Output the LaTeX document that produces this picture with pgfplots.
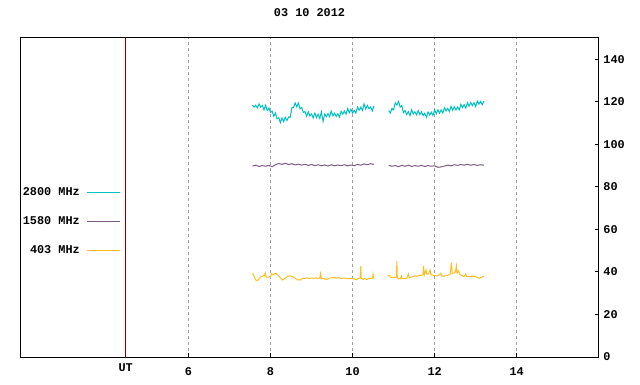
\documentclass[border=0pt]{standalone}
\usepackage{fontspec}
\setmainfont{Liberation Mono}
\usepackage{pgfplots}
\pgfplotsset{compat=1.18}
\definecolor{cteal}{RGB}{0,192,192}
\definecolor{cpurp}{RGB}{125,92,130}
\definecolor{corange}{RGB}{255,190,30}
\definecolor{cut}{RGB}{128,0,0}
\definecolor{cgrid}{RGB}{160,160,160}
\newcommand{\lfont}{\fontsize{11.9}{13}\selectfont\bfseries}
\begin{document}
\begin{tikzpicture}[x=1bp,y=1bp]
\useasboundingbox (0,0) rectangle (640,384);
\begin{axis}[
  at={(20.3bp,27bp)}, anchor=south west,
  scale only axis, width=578.4bp, height=319bp,
  xmin=1.9, xmax=16.0, ymin=0, ymax=150,
  axis line style={line width=1bp},
  xtick={6,8,10,12,14}, ytick={0,20,...,140},
  xtick pos=bottom, ytick pos=right, yticklabel pos=right,
  tick align=inside, major tick length=4bp,
  every tick/.style={black, line width=1bp},
  xmajorgrids,
  major x grid style={cgrid, line width=1bp, dash pattern=on 3bp off 3bp},
  extra x ticks={4.47}, extra x tick labels={UT},
  extra x tick style={
    major x grid style={cut, solid, line width=1bp},
    every tick/.style={cut, line width=1bp},
    xticklabel style={yshift=4bp}},
  tick label style={font=\lfont},
  xticklabel style={anchor=base, yshift=-18bp},
  yticklabel style={anchor=west, inner sep=0pt, xshift=4.5bp},
  /pgf/number format/assume math mode=true,
  title={03 10 2012},
  title style={font=\lfont, at={(0.5,1)}, anchor=center, yshift=19bp},
  unbounded coords=jump,
  legend cell align=right,
  legend plot pos=right,
  legend style={at={(rel axis cs:0.1741,0.5204)}, anchor=north east, yshift=3.5bp,
    draw=none, fill=none, inner sep=0pt, font=\lfont,
    nodes={inner sep=0pt}, column sep=7bp, row sep=19.7bp},
  legend image code/.code={\draw[#1] (0bp,0bp) -- (33bp,0bp);},
]
\addplot[cteal, line width=1bp] coordinates {
(7.56,118.4)(7.60,117.5)(7.64,118.4)(7.68,117.1)(7.72,119.0)(7.76,117.5)(7.80,118.3)(7.84,116.2)(7.88,118.4)(7.92,115.9)
(7.96,117.1)(8.00,115.0)(8.04,115.6)(8.08,113.2)(8.12,114.7)(8.16,112.0)(8.20,112.5)(8.24,110.2)(8.28,112.4)(8.32,110.7)
(8.36,112.7)(8.40,111.2)(8.44,112.9)(8.48,112.7)(8.52,117.2)(8.56,117.3)(8.60,119.5)(8.64,117.6)(8.68,119.4)(8.72,116.7)
(8.76,117.4)(8.80,115.0)(8.84,115.4)(8.88,113.2)(8.92,115.2)(8.96,113.3)(9.00,114.3)(9.04,112.4)(9.08,114.7)(9.12,112.6)
(9.16,114.1)(9.20,112.2)(9.24,115.3)(9.28,110.8)(9.32,114.2)(9.36,113.0)(9.40,114.5)(9.44,113.0)(9.48,115.6)(9.52,113.4)
(9.56,114.7)(9.60,113.1)(9.64,114.4)(9.68,112.8)(9.72,115.5)(9.76,114.1)(9.80,115.7)(9.84,114.2)(9.88,116.8)(9.92,114.9)
(9.96,116.5)(10.00,114.7)(10.04,116.0)(10.08,114.7)(10.12,117.5)(10.16,116.0)(10.20,117.5)(10.24,116.0)(10.28,119.0)(10.32,116.6)
(10.36,118.3)(10.40,116.7)(10.44,117.6)(10.48,115.7)(10.52,118.0)
(10.70,nan)
(10.88,115.9)(10.92,114.7)(10.96,116.9)(11.00,116.2)(11.04,119.5)(11.08,118.5)(11.12,120.2)(11.16,117.5)(11.20,118.2)(11.24,114.9)
(11.28,115.9)(11.32,114.0)(11.36,115.4)(11.40,113.5)(11.44,116.2)(11.48,114.3)(11.52,115.3)(11.56,113.8)(11.60,115.9)(11.64,114.0)
(11.68,115.3)(11.72,113.5)(11.76,114.6)(11.80,112.7)(11.84,115.2)(11.88,113.7)(11.92,115.1)(11.96,113.6)(12.00,116.2)(12.04,114.4)
(12.08,116.2)(12.12,114.7)(12.16,116.2)(12.20,114.7)(12.24,117.2)(12.28,115.7)(12.32,116.9)(12.36,115.4)(12.40,117.9)(12.44,116.0)
(12.48,117.7)(12.52,116.2)(12.56,117.6)(12.60,116.2)(12.64,118.8)(12.68,117.3)(12.72,118.7)(12.76,117.0)(12.80,119.6)(12.84,117.9)
(12.88,119.7)(12.92,118.2)(12.96,119.6)(13.00,117.7)(13.04,120.4)(13.08,118.9)(13.12,120.2)(13.16,118.6)(13.20,120.4)
};
\addlegendentry{2800 MHz}
\addplot[cpurp, line width=1bp] coordinates {
(7.56,89.8)(7.64,90.2)(7.72,89.6)(7.80,90.0)(7.88,89.7)(7.96,90.1)(8.04,89.5)(8.12,90.4)(8.20,91.0)(8.28,90.6)
(8.36,91.1)(8.44,90.5)(8.52,90.9)(8.60,90.3)(8.68,90.7)(8.76,90.2)(8.84,90.6)(8.92,90.1)(9.00,90.5)(9.08,90.0)
(9.16,90.4)(9.24,89.9)(9.32,90.3)(9.40,89.8)(9.48,90.4)(9.56,89.9)(9.64,90.3)(9.72,90.0)(9.80,90.4)(9.88,89.9)
(9.96,90.3)(10.04,90.0)(10.12,90.5)(10.20,90.2)(10.28,90.8)(10.36,90.4)(10.44,90.9)(10.52,90.5)
(10.70,nan)
(10.88,90.1)(10.96,89.7)(11.04,90.0)(11.12,89.5)(11.20,90.1)(11.28,89.7)(11.36,90.2)(11.44,89.6)(11.52,90.0)(11.60,89.7)
(11.68,90.1)(11.76,89.6)(11.84,90.0)(11.92,89.7)(12.00,89.9)(12.08,89.2)(12.16,89.4)(12.24,89.8)(12.32,90.2)(12.40,89.9)
(12.48,90.4)(12.56,90.1)(12.64,90.5)(12.72,90.2)(12.80,90.6)(12.88,90.2)(12.96,90.5)(13.04,90.1)(13.12,90.4)(13.20,90.2)
};
\addlegendentry{1580 MHz}
\addplot[corange, line width=1bp] coordinates {
(7.56,39.4)(7.60,38.0)(7.64,36.2)(7.68,35.9)(7.72,36.8)(7.77,37.8)(7.85,38.3)(7.87,39.5)(7.89,37.6)(7.92,37.5)
(8.00,37.8)(8.03,39.2)(8.06,38.7)(8.13,39.4)(8.19,38.3)(8.25,37.0)(8.29,36.2)(8.35,37.0)(8.41,37.8)(8.47,38.2)
(8.52,37.9)(8.57,37.5)(8.65,36.3)(8.73,36.2)(8.78,37.0)(8.85,37.0)(8.90,37.2)(8.95,37.0)(9.00,37.1)(9.05,37.0)
(9.10,37.2)(9.15,37.0)(9.20,37.1)(9.22,39.2)(9.24,37.0)(9.30,36.9)(9.37,36.4)(9.42,37.0)(9.50,37.2)(9.55,37.4)
(9.60,37.1)(9.65,37.3)(9.70,37.0)(9.75,37.0)(9.80,37.1)(9.85,37.0)(9.90,36.8)(9.95,36.9)(10.00,37.0)(10.05,36.6)
(10.10,36.4)(10.15,37.0)(10.19,37.2)(10.20,42.8)(10.21,37.0)(10.25,36.5)(10.30,36.9)(10.35,36.4)(10.40,37.0)(10.45,36.9)
(10.49,37.2)(10.50,39.0)(10.52,37.0)
(10.70,nan)
(10.85,38.1)(10.90,38.3)(10.93,37.5)(10.98,37.4)(11.03,37.5)(11.07,37.6)(11.08,45.1)(11.09,37.4)(11.12,36.8)(11.17,36.9)
(11.19,38.1)(11.21,36.8)(11.27,36.9)(11.32,37.0)(11.36,39.0)(11.38,37.2)(11.43,37.6)(11.48,37.8)(11.52,38.2)(11.57,37.9)
(11.62,38.5)(11.67,38.2)(11.72,38.8)(11.73,42.8)(11.75,38.6)(11.79,40.9)(11.81,38.9)(11.85,39.2)(11.89,40.9)(11.91,38.8)
(11.96,38.5)(12.00,38.3)(12.05,38.1)(12.10,38.3)(12.15,39.4)(12.18,38.1)(12.23,38.0)(12.28,38.3)(12.33,38.5)(12.38,38.9)
(12.41,44.5)(12.43,39.2)(12.48,39.6)(12.51,40.2)(12.53,42.8)(12.55,39.5)(12.58,40.5)(12.62,38.8)(12.67,38.2)(12.72,37.9)
(12.76,39.0)(12.78,37.8)(12.84,37.9)(12.90,37.8)(12.95,38.1)(13.00,37.7)(13.05,37.4)(13.10,37.0)(13.15,37.5)(13.20,38.1)
};
\addlegendentry{403 MHz}
\end{axis}
\end{tikzpicture}
\end{document}
